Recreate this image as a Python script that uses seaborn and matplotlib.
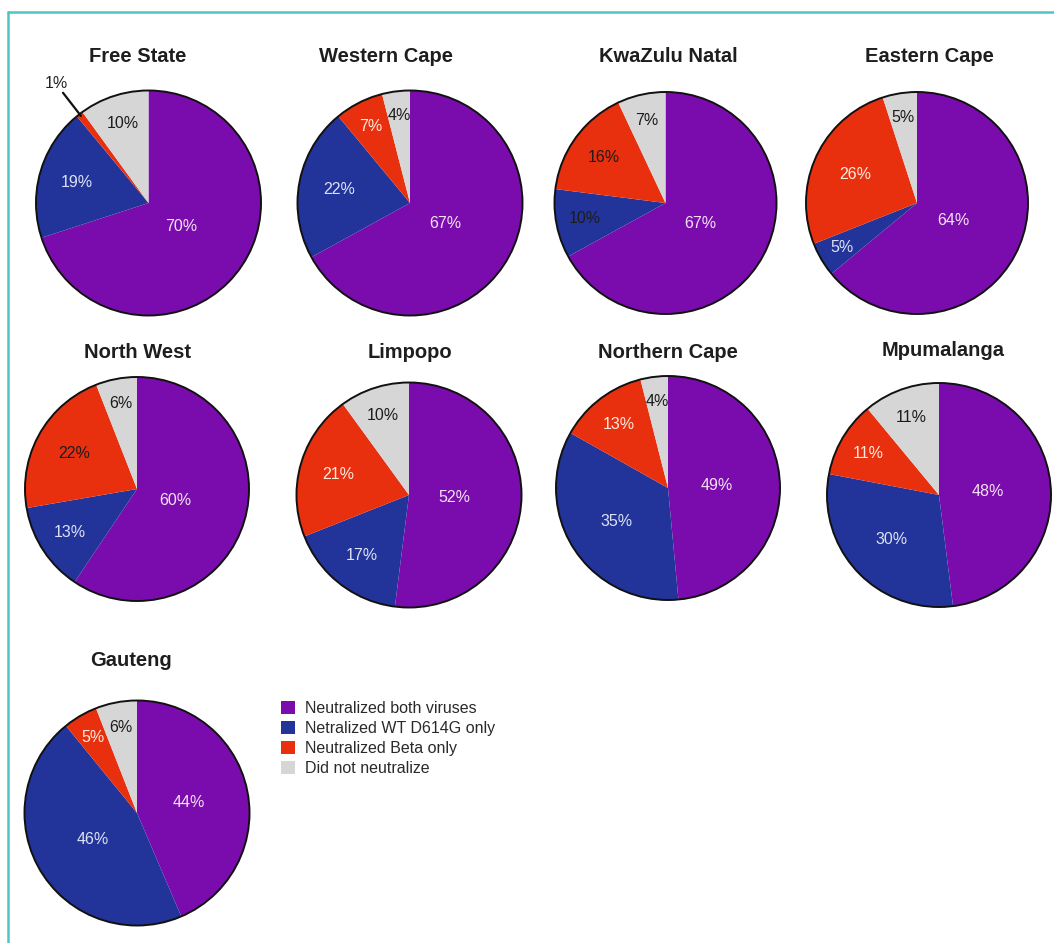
import numpy as np
import matplotlib
matplotlib.use("Agg")
import matplotlib.pyplot as plt
from matplotlib.patches import Patch, Circle
from matplotlib.lines import Line2D
import seaborn as sns

# ---------------------------------------------------------------- data
regions = ["Free State", "Western Cape", "KwaZulu Natal", "Eastern Cape",
           "North West", "Limpopo", "Northern Cape", "Mpumalanga", "Gauteng"]
categories = ["Neutralized both viruses", "Netralized WT D614G only",
              "Neutralized Beta only", "Did not neutralize"]
both_pct = [70, 67, 67, 64, 60, 52, 49, 48, 44]
wt_only_pct = [19, 22, 10, 5, 13, 17, 35, 30, 46]
beta_only_pct = [1, 7, 16, 26, 22, 21, 13, 11, 5]
none_pct = [10, 4, 7, 5, 6, 10, 4, 11, 6]

# ---------------------------------------------------------------- style
sns.set_theme(style="white")
plt.rcParams["font.family"] = ["Liberation Sans", "DejaVu Sans"]
TITLE_FAMILY = ["Liberation Sans", "DejaVu Sans"]

palette = sns.color_palette(["#7A0CAD", "#22349A", "#E8300F", "#D6D6D6"])
label_colors = ["#F4E2F4", "#DDE1F6", "#FFEAE0", "#1C1C1C"]
dark_label = "#1C1C1C"
# slices whose percentage is printed in dark ink (region, category index)
dark_overrides = {("KwaZulu Natal", 1), ("KwaZulu Natal", 2), ("North West", 2)}

W, H = 1054, 943
DPI = 100

# pie centre x, centre y and radius, in pixels from the top-left corner
pie_layout = {
    "Free State": (148.5, 203, 112.5),
    "Western Cape": (410, 203, 112.5),
    "KwaZulu Natal": (665.5, 203, 111),
    "Eastern Cape": (917, 203, 111),
    "North West": (137, 489, 112),
    "Limpopo": (409, 495, 112.5),
    "Northern Cape": (668, 488, 112),
    "Mpumalanga": (939, 495, 112),
    "Gauteng": (137, 813, 112.5),
}
# title centre positions in pixels
title_layout = {
    "Free State": (138, 57),
    "Western Cape": (386, 57),
    "KwaZulu Natal": (668, 57),
    "Eastern Cape": (929, 57),
    "North West": (137, 352),
    "Limpopo": (410, 352),
    "Northern Cape": (668, 352),
    "Mpumalanga": (943, 351),
    "Gauteng": (131, 660),
}


def label_distance(frac):
    """Radial position of a percentage label: small slices sit near the rim."""
    return float(np.clip(0.82 - 0.8 * frac, 0.36, 0.78))


fig = plt.figure(figsize=(W / DPI, H / DPI), dpi=DPI)
fig.patch.set_facecolor("white")

PAD = 1.06
for i, region in enumerate(regions):
    values = [both_pct[i], wt_only_pct[i], beta_only_pct[i], none_pct[i]]
    cx, cy, r = pie_layout[region]
    ax = fig.add_axes([(cx - PAD * r) / W, 1 - (cy + PAD * r) / H,
                       2 * PAD * r / W, 2 * PAD * r / H])
    wedges, _ = ax.pie(values, colors=palette, startangle=90,
                       counterclock=False, radius=1.0,
                       wedgeprops=dict(linewidth=0))
    ax.add_patch(Circle((0, 0), 1.0, fill=False, edgecolor="#111111",
                        linewidth=1.4, zorder=5))
    ax.set_xlim(-PAD, PAD)
    ax.set_ylim(-PAD, PAD)
    ax.set_aspect("equal")
    ax.axis("off")

    total = float(sum(values))
    for k, (w, v) in enumerate(zip(wedges, values)):
        frac = v / total
        mid = np.deg2rad((w.theta1 + w.theta2) / 2)
        ux, uy = np.cos(mid), np.sin(mid)
        color = dark_label if (region, k) in dark_overrides else label_colors[k]
        text = f"{v}%"
        if frac < 0.02:
            # tiny slice: label outside with a leader line
            ax.plot([ux * 0.98, ux * 1.24], [uy * 0.98, uy * 1.24],
                    color="#111111", lw=1.6, clip_on=False, zorder=6)
            ax.text(ux * 1.34, uy * 1.34, text, ha="center", va="center",
                    fontsize=11.5, color="#222222", clip_on=False)
        else:
            d = label_distance(frac)
            ax.text(ux * d, uy * d, text, ha="center", va="center",
                    fontsize=11.5, color=color, zorder=7)

    tx, ty = title_layout[region]
    fig.text(tx / W, 1 - ty / H, region, ha="center", va="center",
             fontsize=14.5, fontweight="bold", color="#1E1E1E",
             family=TITLE_FAMILY)

# legend beside the last pie
handles = [Patch(facecolor=c, edgecolor="none") for c in palette]
fig.legend(handles, categories, loc="upper left",
           bbox_to_anchor=(281 / W, 1 - 701 / H), frameon=False,
           fontsize=11.5, handlelength=0.9, handleheight=0.9,
           handletextpad=0.6, labelspacing=0.3, borderpad=0,
           borderaxespad=0, labelcolor="#2A2A2A")

# teal frame along the top and left edges
frame_color = "#4EC4C4"
fig.add_artist(Line2D([8 / W, 1.0], [1 - 12 / H, 1 - 12 / H],
                      transform=fig.transFigure, color=frame_color, lw=1.8))
fig.add_artist(Line2D([8 / W, 8 / W], [1 - 12 / H, 0.0],
                      transform=fig.transFigure, color=frame_color, lw=1.8))

fig.savefig("out.png", dpi=DPI, facecolor="white")
